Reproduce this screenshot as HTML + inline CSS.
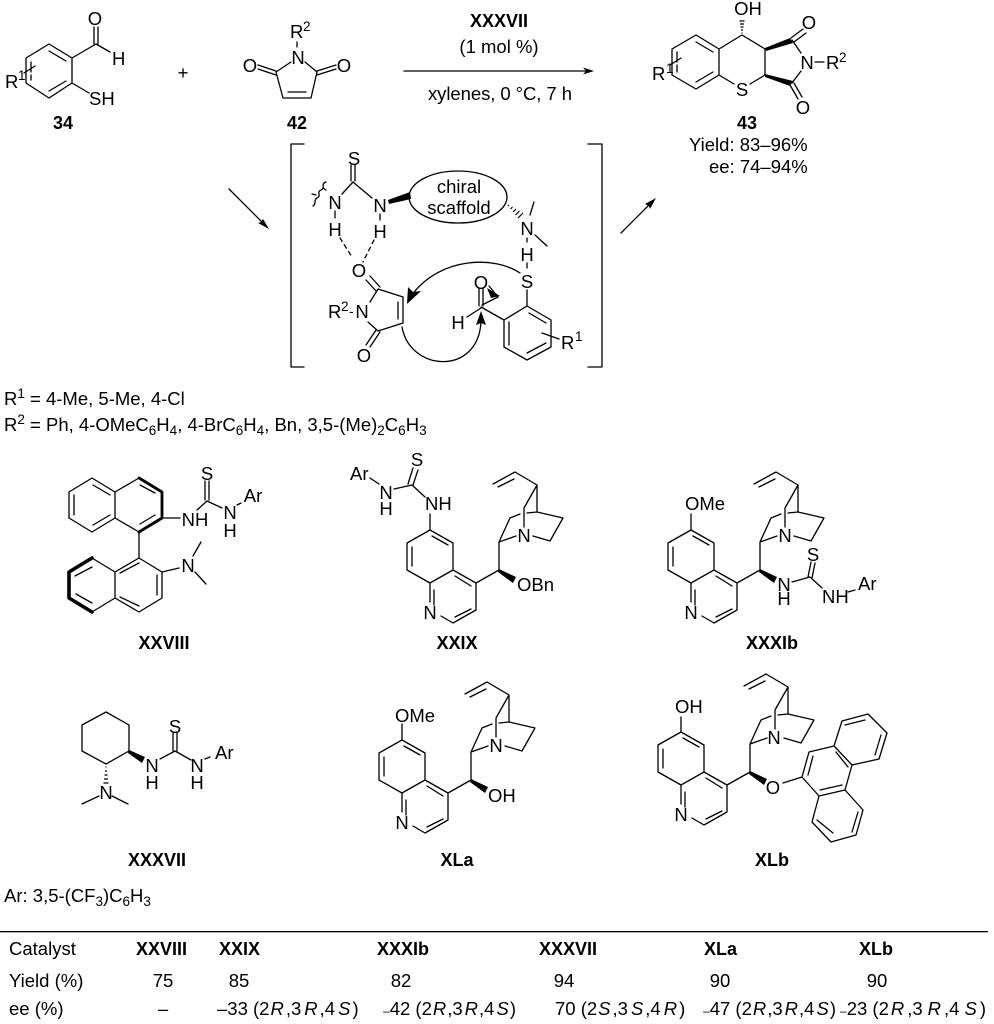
<!DOCTYPE html>
<html><head><meta charset="utf-8"><style>
html,body{margin:0;padding:0;background:#fff}
svg{display:block}
text{font-family:"Liberation Sans",sans-serif;font-size:18.5px;fill:#000}
.m{text-anchor:middle}
.b{font-weight:bold;font-size:18px}
.s{font-size:13.5px}
.i{font-style:italic}
.l{fill:none;stroke:#000;stroke-width:1.3;stroke-linecap:round;stroke-linejoin:round}
.t{fill:none;stroke:#000;stroke-width:3.6;stroke-linecap:round;stroke-linejoin:round}
.h{fill:none;stroke:#000;stroke-width:1.2}
</style></head><body>
<svg width="994" height="1024" viewBox="0 0 994 1024" xmlns="http://www.w3.org/2000/svg">
<!-- 34 -->
<path class="l" d="M49,44L72,58L72,83L49,98L26,83L26,58ZM49,51L66,61M49,91L66,81M31,62V72M31,75V80M24,73L35,66M72,58L96,44L110,52M94,44V27M98,44V27M72,83L89,93"/>
<text class="m" x="95" y="25">O</text><text x="112" y="65">H</text><text x="89" y="105">SH</text>
<text x="5" y="88">R</text><text class="s" x="18" y="80">1</text>
<text class="m b" x="63" y="129">34</text>
<text class="m" x="183" y="79">+</text>
<!-- 42 -->
<path class="l" d="M297,42V47M276,72L291,62M317,72L305,62M276,72L283,98H311L317,72M288,92H306M276,71L258,65M276,75L258,69M317,71L336,65M317,75L336,69"/>
<text x="290" y="38">R</text><text class="s" x="303" y="31">2</text>
<text class="m" x="298" y="64">N</text><text class="m" x="250" y="72">O</text><text class="m" x="344" y="72">O</text>
<text class="m b" x="297" y="129">42</text>
<!-- main arrow -->
<path class="l" d="M404,71H586"/><polygon points="594,71 583,67.5 586,71 583,74.5"/>
<text class="m b" x="499" y="27">XXXVII</text>
<text class="m" x="499" y="53">(1 mol %)</text>
<text x="428" y="100" textLength="144">xylenes, 0 °C, 7 h</text>
<!-- 43 -->
<path class="l" d="M696,35L719,49V75L696,89L672,75V49ZM696,42L713,52M696,82L713,72M677,52V62M677,65V72M670,65L681,58M719,49L742,35L765,49V75L750,84M719,75L734,84M792,40L801,53M792,83L801,71M791,38L803,29M794,42L806,33M790,85L798,99M794,83L802,97M815,62H824"/>
<polygon points="765,48 790,38 793,43 766,51"/><polygon points="765,74 793,81 790,86 765,77"/>
<path class="h" d="M741.5,33h1M741,30h2M740.5,27h3M740,24h4M739.5,21h5"/>
<text class="m" x="748" y="15">OH</text><text class="m" x="809" y="29">O</text><text class="m" x="803" y="114">O</text>
<text class="m" x="807" y="69">N</text><text class="m" x="742" y="96">S</text>
<text x="826" y="69">R</text><text class="s" x="839" y="62">2</text>
<text x="652" y="80">R</text><text class="s" x="666" y="73">1</text>
<text class="m b" x="747" y="129">43</text>
<text x="689" y="151">Yield: 83–96%</text><text x="709" y="173">ee: 74–94%</text>
<!-- arrows and brackets -->
<path class="l" d="M229,189L263,223"/><polygon points="269,229 258,223 261,222 263,219"/>
<path class="l" d="M621,233L650,204"/><polygon points="656,198 650,209 649,206 645,204"/>
<path class="l" d="M304,144H291V367H304M588,144H602V367H588"/>
<!-- intermediate -->
<path class="l" d="M351,165V181M355,165V181M353,182L342,194M353,182L372,198M335,211V218M380,214V220M326,182C320,184 326,188 321,190C316,192 322,196 317,198C313,200 317,204 313,206"/>
<path class="l" stroke-dasharray="4 4" d="M340,238L352,257M374,240L363,262"/>
<path class="l" d="M323,188l3,2M312,194l4,1"/>
<text class="m" x="354" y="165">S</text><text class="m" x="335" y="209">N</text><text class="m" x="380" y="212">N</text>
<text class="m" x="335" y="236">H</text><text class="m" x="380" y="238">H</text>
<ellipse class="l" cx="458" cy="197" rx="49" ry="26"/>
<text class="m" x="459" y="193">chiral</text><text class="m" x="459" y="214">scaffold</text>
<polygon points="388,200 410,192 411,199 389,204"/>
<path class="h" stroke-width="1.4" d="M508,206l1,-1M510.500,209l2,-2M513,212l3,-3M515.500,215l4,-4M518,218l5,-5"/>
<path class="l" d="M530,215L534,202M535,235L547,246M527,238V242M527,263V268M527,290V306L551,320V347L527,360L504,347V320L527,306M509,322V345M527,353L546,343M529,313L546,323M481,307L504,320M479,288V306M483,288V306M481,308L467,317M542,333L559,339"/>
<text class="m" x="527" y="235">N</text><text class="m" x="527" y="261">H</text><text class="m" x="527" y="288">S</text>
<text class="m" x="481" y="289">O</text><text class="m" x="458" y="329">H</text>
<text x="561" y="349">R</text><text class="s" x="575" y="341">1</text>
<path class="l" d="M378,289L403,297V323L378,331L368,322M378,289L370,302M398,302V319M376,291L366,280M380,287L370,276M376,330L366,345M380,332L370,347"/>
<text class="m" x="359" y="277">O</text><text class="m" x="364" y="362">O</text><text class="m" x="362" y="318">N</text>
<text x="328" y="318">R</text><text class="s" x="341" y="311">2</text><text x="349" y="316" style="font-size:14px">-</text>
<path class="l" d="M520,273C495,256 440,256 411,296"/><polygon points="407,304 408,287 413,292 421,291"/>
<path class="l" d="M402,327C410,372 478,376 481,322"/><polygon points="481,311 476,325 481,323 486,325"/>
<path class="l" d="M482,305L498,297L489,286"/><polygon points="487,288 500,296 491,298"/>
<!-- R text -->
<text x="4" y="405">R<tspan class="s" dy="-7">1</tspan><tspan dy="7"> = 4-Me, 5-Me, 4-Cl</tspan></text>
<text x="4" y="431">R<tspan class="s" dy="-7">2</tspan><tspan dy="7"> = Ph, 4-OMeC</tspan><tspan class="s" dy="4">6</tspan><tspan dy="-4">H</tspan><tspan class="s" dy="4">4</tspan><tspan dy="-4">, 4-BrC</tspan><tspan class="s" dy="4">6</tspan><tspan dy="-4">H</tspan><tspan class="s" dy="4">4</tspan><tspan dy="-4">, Bn, 3,5-(Me)</tspan><tspan class="s" dy="4">2</tspan><tspan dy="-4">C</tspan><tspan class="s" dy="4">6</tspan><tspan dy="-4">H</tspan><tspan class="s" dy="4">3</tspan></text>
<!-- XXVIII -->
<path class="l" d="M92,478L115,492V518L92,532L69,518V492ZM74,495V515M93,485L110,495M93,525L110,515M115,492L139,478M115,518L139,532V558M140,485L155,493M140,524L155,515M162,518H180M205,481V500M209,481V500M197,510L207,501L222,508M237,505L241,503"/>
<path class="t" d="M139,478L162,492V518L139,532" style="stroke-width:2.8"/>
<path class="l" d="M139,558L162,572V598L139,612L115,598V572ZM120,573L139,563M157,575V595M120,597L139,606M115,572L92,558M115,598L92,612M75,576L92,567M76,594L92,603M162,572L179,568M193,556L201,542M195,572L206,584"/>
<path class="t" d="M92,558L69,572V598L92,612"/>
<text class="m" x="195" y="526">NH</text><text class="m" x="207" y="480">S</text><text class="m" x="230" y="519">N</text><text class="m" x="230" y="537">H</text>
<text class="m" x="253" y="502">Ar</text><text class="m" x="188" y="572">N</text>
<text class="m b" x="164" y="649">XXVIII</text>
<!-- XXIX -->
<path class="l" d="M430,530L453,543V570L430,583L407,570V543ZM432,536L448,545M412,547V566M453,570L476,583V610L453,623L441,616M430,583V602M455,576L471,586M434,590V605M455,617L471,609M476,583L499,570V542L510,518L520,514M527,513L537,512M499,542L516,536M524,527V508L537,485V512L563,518L550,541L533,536M537,485L515,472L493,484M514,479L498,487"/>
<polygon points="499,569 516,577 513,583 498,572"/>
<path class="l" d="M430,530V514M425,497L412,485L394,489M408,484L413,468M413,485L418,470M370,478L379,484"/>
<text class="m" x="524" y="542">N</text><text x="517" y="591">OBn</text><text class="m" x="430" y="619">N</text>
<text x="425" y="510">NH</text><text class="m" x="417" y="466">S</text><text class="m" x="386" y="499">N</text><text class="m" x="386" y="515">H</text><text x="350" y="480">Ar</text>
<text class="m b" x="457" y="649">XXIX</text>
<!-- XXXIb -->
<g transform="translate(261,0)"><path class="l" d="M430,530L453,543V570L430,583L407,570V543ZM432,536L448,545M412,547V566M453,570L476,583V610L453,623L441,616M430,583V602M455,576L471,586M434,590V605M455,617L471,609M476,583L499,570V542L510,518L520,514M527,513L537,512M499,542L516,536M524,527V508L537,485V512L563,518L550,541L533,536M537,485L515,472L493,484M514,479L498,487"/></g>
<polygon points="760,569 777,577 774,583 759,572"/>
<path class="l" d="M691,530V514M792,582L810,577L822,588M808,577L811,562M812,578L815,563M848,592L855,590"/>
<text class="m" x="785" y="542">N</text><text class="m" x="691" y="619">N</text><text x="685" y="510">OMe</text>
<text class="m" x="784" y="591">N</text><text class="m" x="784" y="605">H</text><text class="m" x="813" y="561">S</text>
<text x="822" y="603">NH</text><text x="858" y="590">Ar</text>
<text class="m b" x="772" y="649">XXXIb</text>
<!-- XXXVII -->
<path class="l" d="M106,712L129,725V751L106,764L82,751V725ZM160,759L175,751L191,760M173,751V733M177,751V733M205,759L210,757M99,796L82,804M112,796L128,804"/>
<polygon points="129,750 145,757 142,763 128,753"/>
<path class="h" d="M105.500,767h1M105,771h2M104.500,775h3M104,779h4M103.500,783h5"/>
<text class="m" x="152" y="772">N</text><text class="m" x="152" y="789">H</text><text class="m" x="175" y="733">S</text><text class="m" x="197" y="772">N</text><text class="m" x="197" y="789">H</text><text x="215" y="759">Ar</text><text class="m" x="106" y="799">N</text>
<text class="m b" x="157" y="866">XXXVII</text>
<!-- XLa -->
<g transform="translate(-28,210)"><path class="l" d="M430,530L453,543V570L430,583L407,570V543ZM432,536L448,545M412,547V566M453,570L476,583V610L453,623L441,616M430,583V602M455,576L471,586M434,590V605M455,617L471,609M476,583L499,570V542L510,518L520,514M527,513L537,512M499,542L516,536M524,527V508L537,485V512L563,518L550,541L533,536M537,485L515,472L493,484M514,479L498,487"/></g>
<polygon points="471,779 488,787 485,793 470,782"/>
<path class="l" d="M402,740V724"/>
<text class="m" x="496" y="752">N</text><text class="m" x="402" y="829">N</text><text x="395" y="722">OMe</text><text x="488" y="802">OH</text>
<text class="m b" x="457" y="866">XLa</text>
<!-- XLb -->
<g transform="translate(251,202)"><path class="l" d="M430,530L453,543V570L430,583L407,570V543ZM432,536L448,545M412,547V566M453,570L476,583V610L453,623L441,616M430,583V602M455,576L471,586M434,590V605M455,617L471,609M476,583L499,570V542L510,518L520,514M527,513L537,512M499,542L516,536M524,527V508L537,485V512L563,518L550,541L533,536M537,485L515,472L493,484M514,479L498,487"/></g>
<polygon points="750,771 767,779 764,785 749,774"/>
<path class="l" d="M681,732V717M783,783L802,777L809,752L834,746L852,765L845,790L819,796L802,777M813,756L808,775M836,752L848,767M820,790L842,785M834,746L842,721L868,714L887,733L879,759L852,765M845,725L865,720M881,735L875,755M819,796L812,822L831,842L856,835L863,810L845,790M817,820L833,833M858,812L852,832"/>
<text class="m" x="774" y="744">N</text><text class="m" x="681" y="821">N</text><text x="675" y="713">OH</text><text class="m" x="773" y="794">O</text>
<text class="m b" x="772" y="866">XLb</text>
<!-- Ar -->
<text x="4" y="902">Ar: 3,5-(CF<tspan class="s" dy="4">3</tspan><tspan dy="-4">)C</tspan><tspan class="s" dy="4">6</tspan><tspan dy="-4">H</tspan><tspan class="s" dy="4">3</tspan></text>
<!-- table -->
<rect x="0" y="931" width="988" height="1.3" fill="#000"/>
<text x="9" y="955">Catalyst</text>
<text class="b" x="136" y="955">XXVIII</text><text class="b" x="219" y="955">XXIX</text><text class="b" x="377" y="955">XXXIb</text><text class="b" x="539" y="955">XXXVII</text><text class="b" x="704" y="955">XLa</text><text class="b" x="859" y="955">XLb</text>
<text x="9" y="987">Yield (%)</text>
<text class="m" x="163" y="987">75</text><text class="m" x="239" y="987">85</text><text class="m" x="401" y="987">82</text><text class="m" x="564" y="987">94</text><text class="m" x="720" y="987">90</text><text class="m" x="877" y="987">90</text>
<text x="9" y="1015">ee (%)</text>
<text class="m" x="163" y="1015">–</text>
<text x="217" y="1015">–33 (2<tspan class="i" dx="1">R</tspan><tspan dx="2">,3</tspan><tspan class="i" dx="3">R</tspan><tspan dx="2">,4</tspan><tspan class="i" dx="3">S</tspan><tspan dx="2">)</tspan></text>
<text x="383" y="1015"><tspan style="font-size:12px">–</tspan>42 (2<tspan class="i" dx="1">R</tspan><tspan dx="1">,3</tspan><tspan class="i" dx="2">R</tspan><tspan dx="1">,4</tspan><tspan class="i" dx="2">S</tspan><tspan dx="1">)</tspan></text>
<text x="555" y="1015">70 (2<tspan class="i" dx="1">S</tspan><tspan dx="2">,3</tspan><tspan class="i" dx="3">S</tspan><tspan dx="2">,4</tspan><tspan class="i" dx="3">R</tspan><tspan dx="2">)</tspan></text>
<text x="703" y="1015"><tspan style="font-size:12px">–</tspan>47 (2<tspan class="i" dx="1">R</tspan><tspan dx="1">,3</tspan><tspan class="i" dx="2">R</tspan><tspan dx="1">,4</tspan><tspan class="i" dx="2">S</tspan><tspan dx="1">)</tspan></text>
<text x="840" y="1015"><tspan style="font-size:12px">–</tspan>23 (2<tspan class="i" dx="2">R</tspan><tspan dx="3">,3</tspan><tspan class="i" dx="5">R</tspan><tspan dx="3">,4</tspan><tspan class="i" dx="5">S</tspan><tspan dx="3">)</tspan></text>
</svg>
</body></html>
